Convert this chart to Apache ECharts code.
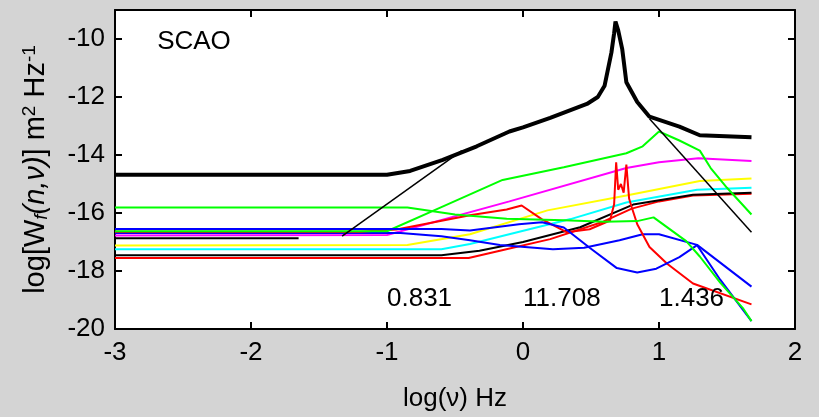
<!DOCTYPE html>
<html><head><meta charset="utf-8">
<script src="https://cdn.jsdelivr.net/npm/echarts@6/dist/echarts.min.js"></script>
<style>html,body{margin:0;padding:0;background:#d4d4d4;}#c{width:819px;height:417px;}</style>
</head><body><div id="c"></div>
<script>
// ---- data (log10 frequency, log10 power) ----
const xTicks = [-3, -2, -1, 0, 1, 2];
const yTicks = [-20, -18, -16, -14, -12, -10];

const totalX = [-3, -1.0, -0.83, -0.59, -0.34, -0.1, 0.0, 0.2, 0.47, 0.55, 0.6, 0.65, 0.67, 0.68, 0.70, 0.73, 0.76, 0.84, 0.93, 1.15, 1.30, 1.68];
const totalY = [-14.68, -14.68, -14.55, -14.17, -13.7, -13.19, -13.05, -12.72, -12.24, -12.0, -11.61, -10.47, -9.8, -9.4, -9.7, -10.36, -11.49, -12.17, -12.68, -13.02, -13.32, -13.39];

const fitLowX = [-1.33, -0.45];
const fitLowY = [-16.8, -13.85];
const fitHighX = [0.93, 1.68];
const fitHighY = [-12.75, -16.66];

const green1X = [-3, -0.85, -0.5, -0.12, 0.3, 0.6, 0.84, 0.96, 1.2, 1.3, 1.45, 1.62, 1.68];
const green1Y = [-15.81, -15.81, -16.05, -16.2, -16.25, -16.3, -16.28, -16.15, -16.97, -17.5, -18.4, -19.3, -19.73];

const green2X = [-3, -1.0, -0.6, -0.15, 0.3, 0.76, 0.88, 1.0, 1.15, 1.3, 1.38, 1.5, 1.68];
const green2Y = [-16.63, -16.63, -15.8, -14.86, -14.42, -13.94, -13.7, -13.19, -13.5, -13.85, -14.45, -15.13, -16.05];

const magentaX = [-3, -1.0, -0.1, 0.76, 1.0, 1.29, 1.68];
const magentaY = [-16.78, -16.76, -15.6, -14.45, -14.25, -14.11, -14.21];

const yellowX = [-3, -0.85, -0.39, 0.18, 0.76, 1.30, 1.68];
const yellowY = [-17.12, -17.1, -16.73, -15.91, -15.4, -14.9, -14.81];

const cyanX = [-3, -0.6, -0.39, 0.35, 0.76, 1.28, 1.68];
const cyanY = [-17.25, -17.25, -17.07, -16.21, -15.64, -15.2, -15.13];

const black2X = [-3, -0.6, -0.32, 0.0, 0.42, 0.81, 1.25, 1.68];
const black2Y = [-17.46, -17.46, -17.3, -17.0, -16.49, -15.71, -15.37, -15.30];

const red1X = [-3, -0.4, -0.17, 0.2, 0.59, 0.8, 1.0, 1.25, 1.68];
const red1Y = [-17.55, -17.55, -17.3, -16.9, -16.3, -15.85, -15.6, -15.4, -15.34];

const red2X = [-3, -1.2, -0.93, -0.39, -0.12, -0.01, 0.14, 0.32, 0.49, 0.64, 0.67, 0.685, 0.70, 0.72, 0.74, 0.76, 0.78, 0.80, 0.84, 0.93, 1.06, 1.25, 1.68];
const red2Y = [-16.65, -16.65, -16.57, -16.08, -15.88, -15.74, -16.22, -16.66, -16.56, -16.26, -15.7, -14.25, -15.2, -15.0, -15.3, -14.33, -15.5, -15.81, -16.39, -17.17, -17.75, -18.43, -19.15];

const blue1X = [-3, -0.6, -0.39, -0.03, 0.14, 0.3, 0.49, 0.69, 0.84, 0.98, 1.15, 1.28, 1.45, 1.68];
const blue1Y = [-16.55, -16.55, -16.6, -16.39, -16.32, -16.5, -17.2, -17.9, -18.05, -17.92, -17.52, -17.11, -18.3, -19.73];

const blue2X = [-3, -0.9, -0.6, -0.39, -0.17, 0.22, 0.45, 0.71, 0.88, 1.0, 1.28, 1.68];
const blue2Y = [-16.69, -16.69, -16.8, -16.94, -17.1, -17.25, -17.2, -16.94, -16.73, -16.73, -17.1, -18.54];

const shortBlackX = [-3, -1.65];
const shortBlackY = [-16.87, -16.87];

const annotTexts = ['SCAO', '0.831', '11.708', '1.436'];
const annotX = [-2.69, -1.0, 0.0, 1.0];
const annotY = [-10.1, -18.95, -18.95, -18.95];

// ---- chart ----
const zip = (xs, ys) => xs.map((x, i) => [x, ys[i]]);
const chart = echarts.init(document.getElementById('c'), null, {renderer: 'canvas'});
const FONT = 'Liberation Sans, Arial, sans-serif';
const mk = (name, xs, ys, color, width, z) => ({
  name, type: 'line', data: zip(xs, ys), symbol: 'none', z: z || 2,
  lineStyle: {color, width}, animation: false
});
const axisCommon = {
  axisLine: {show: true, onZero: false, lineStyle: {color: '#000', width: 2}},
  axisTick: {show: true, inside: true, length: 7, lineStyle: {color: '#000', width: 2}},
  splitLine: {show: false}
};
chart.setOption({
  backgroundColor: '#d4d4d4',
  animation: false,
  grid: {left: 115, right: 24, top: 10, bottom: 84, show: true, backgroundColor: '#fff', borderWidth: 0},
  xAxis: [
    Object.assign({type: 'value', min: xTicks[0], max: xTicks[xTicks.length - 1], interval: 1, position: 'bottom',
      axisLabel: {color: '#000', fontSize: 26, fontFamily: FONT, margin: 11},
      name: 'log(ν) Hz', nameLocation: 'middle', nameGap: 57,
      nameTextStyle: {color: '#000', fontSize: 26, fontFamily: FONT}}, axisCommon),
    Object.assign({type: 'value', min: xTicks[0], max: xTicks[xTicks.length - 1], interval: 1, position: 'top',
      axisLabel: {show: false}}, axisCommon)
  ],
  yAxis: [
    Object.assign({type: 'value', min: yTicks[0], max: -9, interval: 2, position: 'left',
      axisLabel: {color: '#000', fontSize: 26, fontFamily: FONT, margin: 10, showMaxLabel: false},
      name: '{a|log[W}{s|f}{i|(n,ν)}{a|] m}{p|2}{a| Hz}{p|-1}', nameLocation: 'middle', nameGap: 64, nameRotate: 90,
      nameTextStyle: {color: '#000', fontFamily: FONT, rich: {
        a: {fontSize: 29, fontFamily: FONT, color: '#000'},
        i: {fontSize: 29, fontFamily: FONT, fontStyle: 'italic', color: '#000'},
        s: {fontSize: 19, fontFamily: FONT, fontStyle: 'italic', color: '#000', verticalAlign: 'bottom', padding: [12, 0, 0, 0]},
        p: {fontSize: 19, fontFamily: FONT, color: '#000', verticalAlign: 'top', padding: [0, 0, 12, 0]}
      }}}, axisCommon),
    Object.assign({type: 'value', min: yTicks[0], max: -9, interval: 2, position: 'right',
      axisLabel: {show: false}}, axisCommon)
  ],
  series: [
    mk('red1', red1X, red1Y, '#ff0000', 2),
    mk('black2', black2X, black2Y, '#000000', 2),
    mk('cyan', cyanX, cyanY, '#00ffff', 2),
    mk('yellow', yellowX, yellowY, '#ffff00', 2),
    mk('shortBlack', shortBlackX, shortBlackY, '#000000', 2),
    mk('magenta', magentaX, magentaY, '#ff00ff', 2),
    mk('blue2', blue2X, blue2Y, '#0000ff', 2),
    mk('red2', red2X, red2Y, '#ff0000', 2),
    mk('green2', green2X, green2Y, '#00ff00', 2),
    mk('blue1', blue1X, blue1Y, '#0000ff', 2),
    mk('green1', green1X, green1Y, '#00ff00', 2),
    mk('fitLow', fitLowX, fitLowY, '#000000', 1.5),
    mk('fitHigh', fitHighX, fitHighY, '#000000', 1.5),
    mk('total', totalX, totalY, '#000000', 4, 3)
  ]
});
const g = annotTexts.map((t, i) => {
  const p = chart.convertToPixel({xAxisIndex: 0, yAxisIndex: 0}, [annotX[i], annotY[i]]);
  return {type: 'text', x: p[0], y: p[1], z: 10,
    style: {text: t, fill: '#000', font: '26px ' + FONT, textAlign: 'left', textVerticalAlign: 'middle'}};
});
chart.setOption({graphic: g});
</script></body></html>
